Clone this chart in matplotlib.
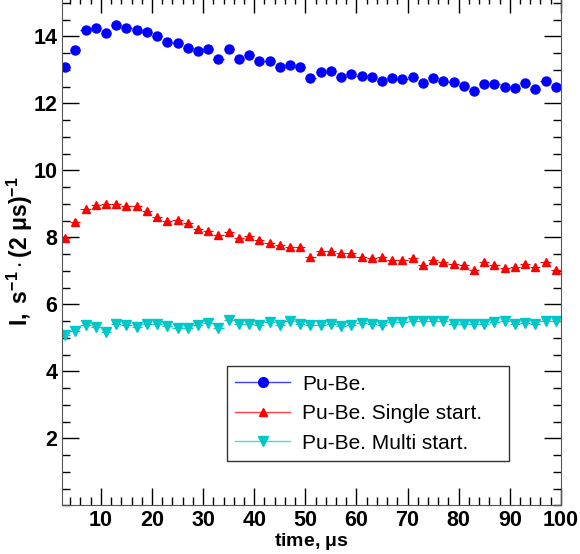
import numpy as np
import matplotlib
matplotlib.use("Agg")
from matplotlib import pyplot as plt
from matplotlib.ticker import MultipleLocator

plt.rcParams['font.family'] = ['Liberation Sans', 'DejaVu Sans']
plt.rcParams['mathtext.fontset'] = 'custom'
plt.rcParams['mathtext.rm'] = 'Liberation Sans'
plt.rcParams['mathtext.bf'] = 'Liberation Sans:bold'
plt.rcParams['mathtext.it'] = 'Liberation Sans:italic'

# bin centres, 2 us bins
time_us = list(range(3, 100, 2))

pube = [13.07, 13.58, 14.18, 14.25, 14.10, 14.35, 14.25, 14.18, 14.12, 14.00,
        13.82, 13.80, 13.65, 13.55, 13.62, 13.32, 13.62, 13.32, 13.43, 13.27,
        13.27, 13.07, 13.13, 13.07, 12.75, 12.93, 12.97, 12.80, 12.87, 12.83,
        12.80, 12.68, 12.77, 12.73, 12.80, 12.60, 12.77, 12.67, 12.65, 12.53,
        12.37, 12.58, 12.58, 12.50, 12.45, 12.60, 12.43, 12.68, 12.50]

single = [7.98, 8.45, 8.83, 8.97, 8.98, 8.98, 8.92, 8.92, 8.78, 8.62,
          8.50, 8.52, 8.42, 8.25, 8.18, 8.07, 8.15, 7.97, 8.05, 7.92,
          7.83, 7.77, 7.70, 7.70, 7.42, 7.60, 7.60, 7.53, 7.53, 7.42,
          7.38, 7.40, 7.33, 7.33, 7.37, 7.18, 7.33, 7.25, 7.20, 7.18,
          7.02, 7.25, 7.17, 7.07, 7.10, 7.20, 7.12, 7.25, 7.02]

multi = [5.08, 5.20, 5.38, 5.32, 5.18, 5.42, 5.38, 5.32, 5.40, 5.42,
         5.35, 5.30, 5.30, 5.38, 5.45, 5.30, 5.52, 5.40, 5.42, 5.38,
         5.48, 5.38, 5.50, 5.42, 5.38, 5.38, 5.42, 5.35, 5.38, 5.45,
         5.42, 5.38, 5.48, 5.48, 5.50, 5.50, 5.50, 5.50, 5.42, 5.40,
         5.40, 5.42, 5.48, 5.50, 5.42, 5.45, 5.40, 5.50, 5.50]

labels = ["Pu-Be.", "Pu-Be. Single start.", "Pu-Be. Multi start."]

fig = plt.figure(figsize=(5.8, 5.54), dpi=100)
ax = fig.add_axes([0.107, 0.088, 0.860, 0.919])

ax.errorbar(time_us, pube, xerr=1, fmt='o', color='blue', ms=6.5,
            elinewidth=0.8, capsize=0)
ax.errorbar(time_us, single, xerr=1, fmt='^', color='red', ms=5.5,
            elinewidth=0.8, capsize=0, ls='none')
ax.errorbar(time_us, multi, xerr=1, fmt='v', color='#00c8c8', ms=6.5,
            elinewidth=0.8, capsize=0, ls='none')

# legend proxies: line with marker
h1, = ax.plot([], [], '-o', color='#4040ff', mfc='blue', mec='blue', lw=1, ms=7)
h2, = ax.plot([], [], '-^', color='#ff4040', mfc='red', mec='red', lw=1, ms=6)
h3, = ax.plot([], [], '-v', color='#40e0e0', mfc='#00c8c8', mec='#00c8c8', lw=1, ms=7)

leg = ax.legend([h1, h2, h3], labels, loc='lower left',
                bbox_to_anchor=(0.331, 0.087, 0.565, 0.19), mode='expand',
                borderaxespad=0, fontsize=15, frameon=True, fancybox=False,
                handlelength=2.6, borderpad=0.4, labelspacing=0.5,
                handletextpad=0.6)
leg.get_frame().set_edgecolor('black')
leg.get_frame().set_linewidth(1.0)

ax.set_xlim(2.4, 100)
ax.set_ylim(0, 15.2)
ax.xaxis.set_major_locator(MultipleLocator(10))
ax.xaxis.set_minor_locator(MultipleLocator(2))
ax.yaxis.set_major_locator(MultipleLocator(2))
ax.yaxis.set_minor_locator(MultipleLocator(0.5))
ax.tick_params(which='both', direction='in', right=True, top=True,
               labelsize=15.5, width=1, colors='black')
ax.tick_params(which='major', length=12)
ax.tick_params(which='minor', length=6)
ax.set_yticks([2, 4, 6, 8, 10, 12, 14])
for t in ax.get_xticklabels() + ax.get_yticklabels():
    t.set_fontweight('bold')
for s in ax.spines.values():
    s.set_color('#555555')

ax.set_xlabel(r"time, $\mathbf{\mu}$s", fontsize=14, fontweight='bold', labelpad=0)
ax.set_ylabel(r"$\mathbf{I,\ s^{-1}\cdot(2\ \mu s)^{-1}}$", fontsize=16.5,
              va='center')
ax.yaxis.set_label_coords(-0.084, 0.5)

fig.savefig("out.png", dpi=100)
